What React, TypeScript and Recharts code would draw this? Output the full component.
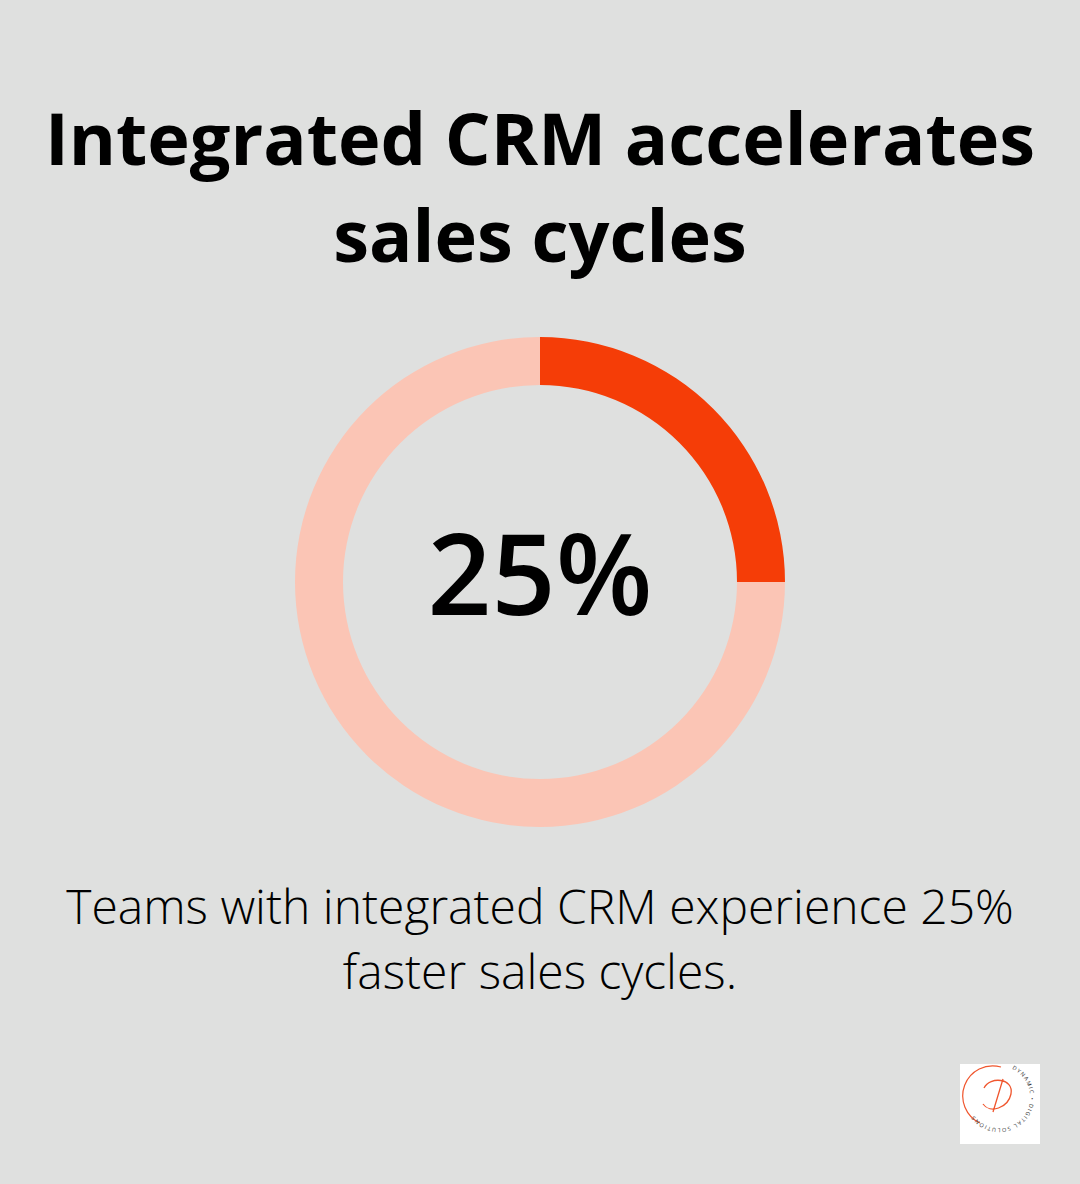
import { PieChart, Pie, Cell } from "recharts";

const segments = ["Faster sales cycles", "Remaining"];
const shares = [25, 75];
const segmentColors = ["#F53D07", "#FBC5B5"];
const titleLines = ["Integrated CRM accelerates", "sales cycles"];
const noteLines = ["Teams with integrated CRM experience 25%", "faster sales cycles."];
const centerLabel = "25%";

const data = segments.map((name, i) => ({ name, value: shares[i] }));

function Logo() {
    return (
        <g>
            <rect x={960} y={1064} width={80} height={80} fill="#ffffff" />
            <defs>
                <path id="logoRing" d="M 1012 1069 A 31 31 0 1 1 972 1112" />
            </defs>
            <path d="M 1001 1067 A 30 30 0 0 0 980 1123" fill="none" stroke="#F0562E" strokeWidth={1.2} />
            <path
                d="M 984 1088 C 990 1076, 1014 1078, 1011 1094 C 1008 1108, 990 1114, 983 1104 M 1003 1079 C 999 1092, 996 1102, 993 1112"
                fill="none"
                stroke="#F0562E"
                strokeWidth={1.3}
            />
            <text fontFamily="Open Sans" fontSize={5.5} letterSpacing={1.2} fill="#333">
                <textPath href="#logoRing">DYNAMIC • DIGITAL SOLUTIONS</textPath>
            </text>
        </g>
    );
}

export default function App() {
    return (
        <div style={{ position: "absolute", left: 0, top: 0, width: 1080, height: 1184, background: "#DFE0DF", overflow: "hidden" }}>
            <div style={{ position: "absolute", left: 0, top: 0 }}>
                <PieChart width={1080} height={1184} margin={{ top: 0, right: 0, bottom: 0, left: 0 }}>
                    <Pie
                        data={data}
                        dataKey="value"
                        nameKey="name"
                        cx={540}
                        cy={582}
                        innerRadius={197}
                        outerRadius={245}
                        startAngle={90}
                        endAngle={-270}
                        stroke="none"
                        isAnimationActive={false}
                    >
                        {data.map((d, i) => (
                            <Cell key={d.name} fill={segmentColors[i]} />
                        ))}
                    </Pie>
                </PieChart>
            </div>
            <svg width={1080} height={1184} style={{ position: "absolute", left: 0, top: 0 }}>
                {titleLines.map((t, i) => (
                    <text key={t} x={540} y={165 + i * 97} textAnchor="middle" fontFamily="Open Sans" fontWeight={700} fontSize={72} fill="#000">
                        {t}
                    </text>
                ))}
                <text x={540} y={615} textAnchor="middle" fontFamily="Open Sans" fontWeight={600} fontSize={112} fill="#000">
                    {centerLabel}
                </text>
                {noteLines.map((t, i) => (
                    <text key={t} x={540} y={924 + i * 65} textAnchor="middle" fontFamily="Open Sans" fontWeight={300} fontSize={48} fill="#000">
                        {t}
                    </text>
                ))}
                <Logo />
            </svg>
        </div>
    );
}
